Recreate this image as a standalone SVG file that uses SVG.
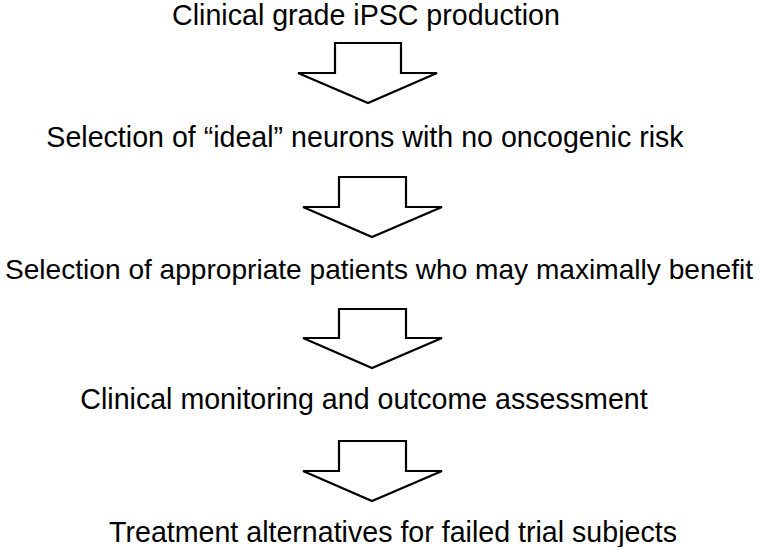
<svg xmlns="http://www.w3.org/2000/svg" width="760" height="547" viewBox="0 0 760 547">
<style>
.t{font-family:"Liberation Sans",Arial,sans-serif;font-size:28.6px;fill:#000;text-anchor:middle}
.a{fill:#fff;stroke:#000;stroke-width:2.2;stroke-linejoin:miter}
</style>
<rect width="760" height="547" fill="#fff"/>
<g id="n1"><text class="t" x="366" y="25">Clinical grade iPSC production</text></g>
<g id="n2"><text class="t" x="365" y="147">Selection of “ideal” neurons with no oncogenic risk</text></g>
<g id="n3"><text class="t" x="379" y="279" style="font-size:28.1px">Selection of appropriate patients who may maximally benefit</text></g>
<g id="n4"><text class="t" x="364" y="409">Clinical monitoring and outcome assessment</text></g>
<g id="n5"><text class="t" x="393" y="542">Treatment alternatives for failed trial subjects</text></g>
<g id="connectors">
<path class="a" d="M335,43 H401 V73 H437 L368,103 L298,73 H335 Z"/>
<path class="a" d="M339,177 H406 V207 H442 L372,237 L303,207 H339 Z"/>
<path class="a" d="M339,309 H406 V338 H442 L372,368 L303,338 H339 Z"/>
<path class="a" d="M339,441 H406 V471 H442 L372,501 L303,471 H339 Z"/>
</g>
</svg>
